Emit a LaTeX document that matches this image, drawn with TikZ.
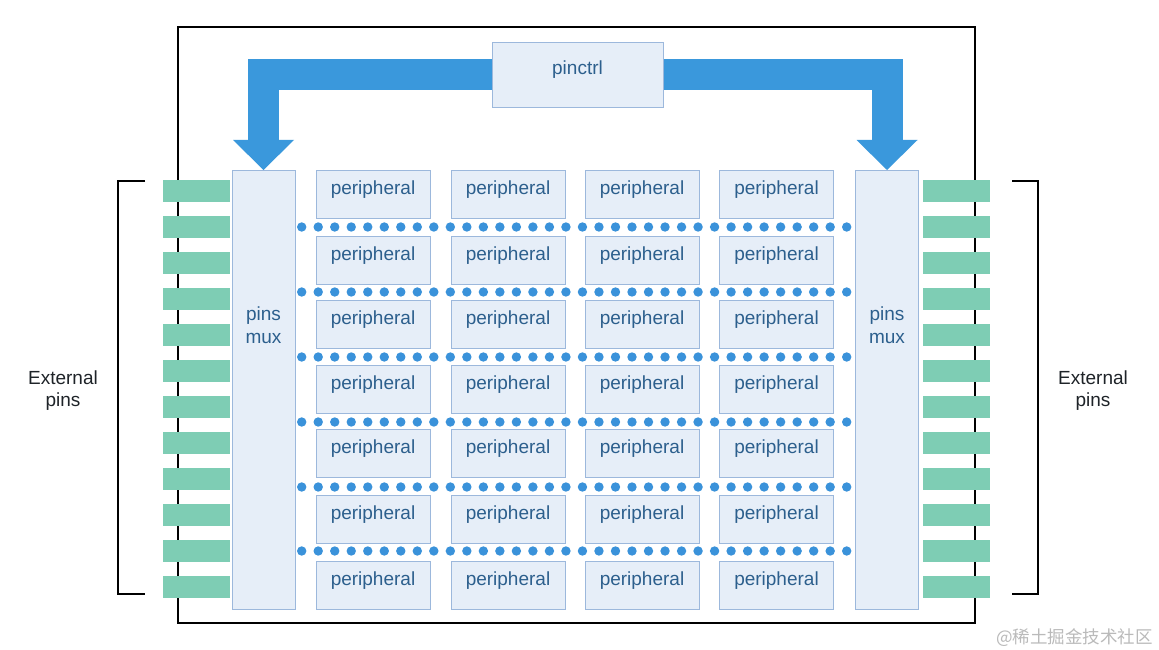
\documentclass[tikz,border=0pt]{standalone}
\usepackage{fontspec}
\setmainfont{Liberation Sans}
\newfontfamily\cjk{Noto Sans CJK SC}
\usetikzlibrary{calc,backgrounds}
\definecolor{boxfill}{HTML}{E6EEF8}
\definecolor{boxline}{HTML}{9CB8DC}
\definecolor{textblue}{HTML}{2C5F8D}
\definecolor{arrowblue}{HTML}{3A98DC}
\definecolor{dotblue}{HTML}{3A92DA}
\definecolor{pingreen}{HTML}{7ECDB4}
\definecolor{wmgray}{HTML}{BABABA}
\definecolor{darktext}{HTML}{1E2328}
\begin{document}
\begin{tikzpicture}[x=1pt,y=-1pt,
  box/.style={draw=boxline, fill=boxfill, line width=0.8pt, inner sep=0pt, outer sep=0pt},
  periph/.style={box, minimum width=114pt, text height=24pt, text depth=24pt, text=textblue, font=\fontsize{19}{23}\selectfont},
  ctrlbox/.style={box, minimum width=171pt, text height=32.5pt, text depth=32.5pt, text=textblue, font=\fontsize{19}{23}\selectfont},
  muxbox/.style={box, minimum width=63pt, minimum height=439pt},
  muxtext/.style={anchor=base, inner sep=0pt, text=textblue, font=\fontsize{19}{23}\selectfont},
  exttext/.style={anchor=base, inner sep=0pt, text=darktext, font=\fontsize{19}{23}\selectfont},
  shaft/.style={draw=arrowblue, line width=31pt, line join=miter, line cap=butt},
  headfill/.style={fill=arrowblue},
  pinbar/.style={fill=pingreen},
  bracketline/.style={draw=black, line width=1.2pt},
  dotfill/.style={fill=dotblue}
]
\useasboundingbox (0,0) rectangle (1159,650);

% outer chip outline
\draw[line width=1.1pt] (178,27) rectangle (975,623);

% external pins
\foreach \k in {0,...,11}{
  \fill[pinbar] (163,{180+36*\k}) rectangle +(67,22);
  \fill[pinbar] (923,{180+36*\k}) rectangle +(67,22);
}

% brackets
\draw[bracketline] (145,181) -- (118,181) -- (118,594) -- (145,594);
\draw[bracketline] (1012,181) -- (1038,181) -- (1038,594) -- (1012,594);

% external pins labels
\node[exttext] (extL1) at (63,384) {External};
\node[exttext] (extL2) at (63,406) {pins};
\node[exttext] (extR1) at (1093,384) {External};
\node[exttext] (extR2) at (1093,406) {pins};

% pinctrl
\node[ctrlbox] (pinctrl) at (577.5,74.5) {pinctrl};

% pins mux
\node[muxbox] (muxL) at (263.5,389.5) {};
\node[muxbox] (muxR) at (887,389.5) {};
\node[muxtext] (muxLt1) at (263.5,320) {pins};
\node[muxtext] (muxLt2) at (263.5,343) {mux};
\node[muxtext] (muxRt1) at (887,320) {pins};
\node[muxtext] (muxRt2) at (887,343) {mux};

% peripherals
\foreach \r/\t in {1/170.5,2/236.5,3/300,4/365.5,5/429.5,6/495.5,7/561.5}{
  \foreach \c/\x in {1/373,2/508,3/642,4/776.5}{
    \node[periph] (p-\r-\c) at (\x,{\t+24}) {peripheral};
  }
}

% dotted buses
\foreach \yy in {227,292,357,422,487,551}{
  \foreach \i in {0,...,33}{
    \fill[dotfill] ({301.7+16.515*\i},\yy) circle (4.7pt);
  }
}

% watermark
\node[anchor=base east, inner sep=0pt, text=wmgray, font=\cjk\fontsize{17.5}{20}\selectfont] (wm) at (1153,643) {@稀土掘金技术社区};

% big arrows from pinctrl to the muxes
\begin{scope}[on background layer]
  \fill[white] (0,0) rectangle (1159,650);
  \draw[shaft] (pinctrl.west) -| ($(muxL.north)+(0,-30)$);
  \draw[shaft] (pinctrl.east) -| ($(muxR.north)+(0,-30)$);
  \fill[headfill] ($(muxL.north)+(-30.5,-30)$) -- (muxL.north) -- ($(muxL.north)+(30.5,-30)$) -- cycle;
  \fill[headfill] ($(muxR.north)+(-30.5,-30)$) -- (muxR.north) -- ($(muxR.north)+(30.5,-30)$) -- cycle;
\end{scope}
\end{tikzpicture}
\end{document}
